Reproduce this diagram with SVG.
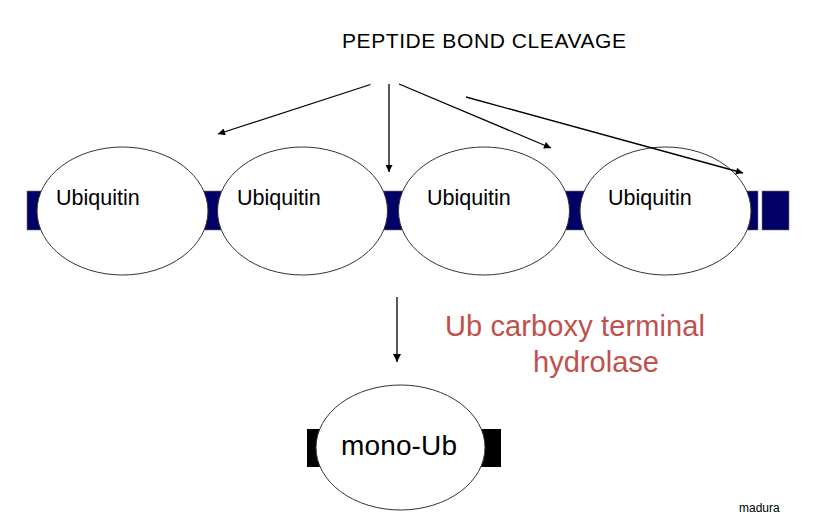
<svg xmlns="http://www.w3.org/2000/svg" width="822" height="528" viewBox="0 0 822 528">
<style>
text{font-family:"Liberation Sans",Arial,sans-serif;fill:#000}
.ub{font-size:21.5px}
.ell{fill:#fff;stroke:#333;stroke-width:1}
.bar{fill:#000066;stroke:#777;stroke-width:0.6}
.red{fill:#c0504d;font-size:29px}
.conn line{stroke:#000;stroke-width:1.3}
</style>
<defs>
<marker id="ah" viewBox="0 0 10 10" refX="10" refY="5" markerWidth="10" markerHeight="7" markerUnits="userSpaceOnUse" orient="auto">
<path d="M0,0 L10,5 L0,10 z" fill="#000"/>
</marker>
<marker id="ah2" viewBox="0 0 10 10" refX="10" refY="5" markerWidth="8" markerHeight="8" markerUnits="userSpaceOnUse" orient="auto">
<path d="M0,0 L10,5 L0,10 z" fill="#000"/>
</marker>
</defs>
<rect width="822" height="528" fill="#fff"/>
<text x="342" y="48" font-size="21" textLength="284">PEPTIDE BOND CLEAVAGE</text>
<g id="chain">
<rect class="bar" x="27" y="191" width="731" height="39"/>
<rect class="bar" x="762" y="191" width="27" height="39"/>
</g>
<g id="ub1"><ellipse class="ell" cx="122.5" cy="211" rx="85.5" ry="64"/><text class="ub" x="56" y="205">Ubiquitin</text></g>
<g id="ub2"><ellipse class="ell" cx="302.5" cy="211" rx="85" ry="64"/><text class="ub" x="237" y="205">Ubiquitin</text></g>
<g id="ub3"><ellipse class="ell" cx="484" cy="211" rx="85.5" ry="64"/><text class="ub" x="427" y="205">Ubiquitin</text></g>
<g id="ub4"><ellipse class="ell" cx="665.5" cy="211" rx="85.5" ry="64"/><text class="ub" x="608" y="205">Ubiquitin</text></g>
<g id="mono">
<rect x="307" y="429" width="194" height="38" fill="#000"/>
<ellipse class="ell" cx="400.5" cy="447.5" rx="84.5" ry="62.5"/>
<text x="341" y="455" font-size="28" textLength="116">mono-Ub</text>
</g>
<g class="conn">
<line x1="370.5" y1="84.5" x2="218" y2="134" marker-end="url(#ah)"/>
<line x1="389" y1="84" x2="389" y2="172" marker-end="url(#ah)"/>
<line x1="399" y1="84" x2="551" y2="148" marker-end="url(#ah)"/>
<line x1="466" y1="97" x2="743" y2="173" marker-end="url(#ah)"/>
<line x1="397" y1="297" x2="397" y2="362" stroke-width="2.2" marker-end="url(#ah2)"/>
</g>
<text class="red" x="445" y="336" textLength="260">Ub carboxy terminal</text>
<text class="red" x="533" y="372" textLength="126">hydrolase</text>
<text x="739" y="512" font-size="12">madura</text>
</svg>
